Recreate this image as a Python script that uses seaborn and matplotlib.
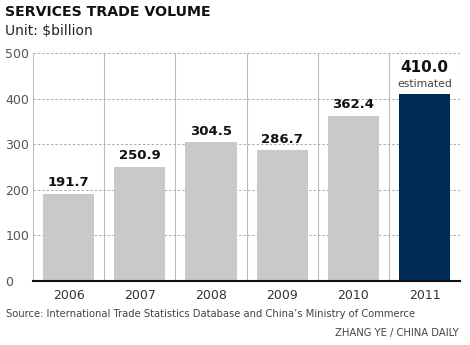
import matplotlib
matplotlib.use("Agg")
import matplotlib.pyplot as plt
import seaborn as sns
import pandas as pd

years = ["2006", "2007", "2008", "2009", "2010", "2011"]
values = [191.7, 250.9, 304.5, 286.7, 362.4, 410.0]
yticks = [0, 100, 200, 300, 400, 500]

sns.set_theme(style="white")
plt.rcParams['font.family'] = ['DejaVu Sans']

df = pd.DataFrame({"year": years, "value": values})
colors = ["#c8c9cb"] * 5 + ["#002b55"]

fig = plt.figure(figsize=(4.7, 3.45), dpi=100)
ax = fig.add_axes([0.0702, 0.1855, 0.9088, 0.6605])
sns.barplot(data=df, x="year", y="value", hue="year", palette=colors, legend=False,
            width=0.72, saturation=1, linewidth=0, ax=ax, zorder=3)

ax.set_ylim(0, 500)
ax.set_xlim(-0.5, 5.5)
ax.set_yticks(yticks)
ax.set_yticklabels([str(t) for t in yticks], color="#555555", fontsize=9)
ax.tick_params(axis="x", colors="#333333", labelsize=9, length=0, pad=6)
ax.tick_params(axis="y", length=0, pad=20)
for lbl in ax.get_yticklabels():
    lbl.set_horizontalalignment("left")
ax.set_xlabel("")
ax.set_ylabel("")

for t in yticks[1:]:
    ax.axhline(t, color="#aaaaaa", lw=0.7, ls=(0, (2.5, 2)), zorder=1)
for k in range(6):
    ax.axvline(k + 0.5, color="#bbbbbb", lw=0.8, zorder=1)
ax.axvline(-0.5, color="#bbbbbb", lw=0.8, zorder=1)

for s in ["top", "right", "left"]:
    ax.spines[s].set_visible(False)
ax.spines["bottom"].set_color("#111111")
ax.spines["bottom"].set_linewidth(1.5)
ax.spines["bottom"].set_zorder(4)

for i, v in enumerate(values):
    if i < 5:
        ax.text(i, v + 10, f"{v:.1f}", ha="center", va="bottom", fontsize=9.5,
                fontweight="bold", color="#111111")
    else:
        ax.text(i, v + 12, "estimated", ha="center", va="bottom", fontsize=7.8, color="#444444")
        ax.text(i, v + 43, f"{v:.1f}", ha="center", va="bottom", fontsize=11,
                fontweight="bold", color="#111111")

fig.text(0.011, 0.965, "SERVICES TRADE VOLUME", fontsize=10.2, fontweight="heavy",
         color="#111111", va="center", ha="left")
fig.text(0.011, 0.91, "Unit: $billion", fontsize=10, color="#222222", va="center", ha="left")
fig.text(0.013, 0.09, "Source: International Trade Statistics Database and China\u2019s Ministry of Commerce",
         fontsize=7.2, color="#444444", va="center", ha="left")
fig.text(0.976, 0.035, "ZHANG YE / CHINA DAILY", fontsize=7.2, color="#444444", va="center", ha="right")

fig.savefig("out.png", dpi=100, facecolor="white")
